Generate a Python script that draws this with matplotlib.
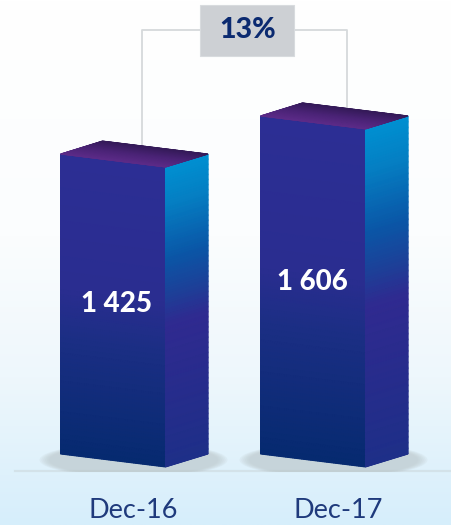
import matplotlib
matplotlib.use("Agg")
import matplotlib.pyplot as plt
import numpy as np
from matplotlib.colors import LinearSegmentedColormap
from matplotlib.patches import Ellipse, Rectangle

plt.rcParams["font.family"] = ["Lato", "DejaVu Sans"]

categories = ["Dec-16", "Dec-17"]
values = [1425, 1606]
value_labels = ["1 425", "1 606"]
growth_label = "13%"

W, H = 452, 525
PX_PER_UNIT = 0.2105   # vertical scale of the bars
PX_PER_BAR = 200       # distance between two bars
BASE_PX = 454          # floor level of the front-left corner
LEFT_PX = 60.5
FRONT_W = 105 / PX_PER_BAR
SIDE_W = 42.5 / PX_PER_BAR
SKEW = 13 / PX_PER_UNIT  # drop of the front edge, in value units

front_cmap = LinearSegmentedColormap.from_list("front", [
    (0, "#2c2e94"), (0.45, "#2a2d90"), (0.62, "#1b2e84"), (1, "#062a70")])
side_cmap = LinearSegmentedColormap.from_list("side", [
    (0, "#0090d2"), (0.12, "#0580c4"), (0.3, "#0a58a8"), (0.42, "#1c4299"),
    (0.53, "#302a90"), (0.75, "#272c8c"), (1, "#1e2f88")])
top_cmap = LinearSegmentedColormap.from_list("top", ["#5c2b88", "#4a2376", "#341a58"])
bg_cmap = LinearSegmentedColormap.from_list("bg", [
    (0, "#ffffff"), (0.45, "#fbfdfe"), (0.72, "#eef7fc"), (1, "#d6eefb")])


def gradient_quad(ax, xs, ys, cmap, horizontal=False):
    """Fill a four-cornered face (tl, tr, br, bl) with a gradient that follows its slant."""
    s = np.linspace(0, 1, 60)
    a, b = (1 - s)[:, None], s[:, None]
    c, d = (1 - s)[None, :], s[None, :]
    XX = xs[0] * a * c + xs[1] * a * d + xs[3] * b * c + xs[2] * b * d
    YY = ys[0] * a * c + ys[1] * a * d + ys[3] * b * c + ys[2] * b * d
    C = d.repeat(60, 0) if horizontal else b.repeat(60, 1)
    ax.pcolormesh(XX, YY, C, cmap=cmap, shading="gouraud", vmin=0, vmax=1, zorder=3)


def y_px(p):
    return (BASE_PX - p) / PX_PER_UNIT


def x_px(p):
    return (p - LEFT_PX) / PX_PER_BAR


fig = plt.figure(figsize=(W / 100, H / 100), dpi=100)
ax = fig.add_axes([0, 0, 1, 1])
ax.axis("off")

# page background, white at the top and pale blue at the bottom
ax.imshow(np.linspace(0, 1, 256)[:, None], cmap=bg_cmap, aspect="auto", zorder=0, origin="upper",
          extent=[x_px(0), x_px(W), y_px(H), y_px(0)], vmin=0, vmax=1)

# floor line
ax.plot([x_px(15), x_px(W)], [y_px(471)] * 2, color="#d3e2e9", lw=1.6, zorder=1)

label_px = [(117, 304), (312, 282)]
name_px = [133.5, 338]

for i, (name, val, lab) in enumerate(zip(categories, values, value_labels)):
    fr = i + FRONT_W
    sd = fr + SIDE_W

    # soft floor shadow, cut off at the floor line
    floor_clip = Rectangle((x_px(0), y_px(471.5)), W / PX_PER_BAR, 40 / PX_PER_UNIT,
                           transform=ax.transData)
    cx, cy = i + 0.365, y_px(460)
    for k in np.linspace(1.0, 0.9, 6):
        e = Ellipse((cx, cy), 188 / PX_PER_BAR * k, 34 / PX_PER_UNIT * k,
                    fc="#bcc7cb", ec="none", alpha=0.16, zorder=2)
        ax.add_patch(e)
        e.set_clip_path(floor_clip)

    # front, side and top of the block
    gradient_quad(ax, [i, fr, fr, i], [val, val - SKEW, -SKEW, 0], front_cmap)
    gradient_quad(ax, [fr, sd, sd, fr], [val - SKEW, val, 0, -SKEW], side_cmap)
    gradient_quad(ax, [i, i + 42 / PX_PER_BAR, sd, fr],
                  [val, val + SKEW, val, val - SKEW], top_cmap, horizontal=True)

    ax.text(x_px(label_px[i][0]), y_px(label_px[i][1]), lab, color="white", fontsize=20,
            fontweight="black", ha="center", va="center", zorder=5)
    ax.text(x_px(name_px[i]), y_px(511), name, color="#1f3a7c", fontsize=19.5,
            ha="center", va="center", zorder=5)

# growth connector between the two bars
ax.plot([x_px(141.5), x_px(141.5), x_px(347), x_px(347)],
        [y_px(149), y_px(30), y_px(30), y_px(112)], color="#d6d9db", lw=1.3, zorder=2)
ax.add_patch(Rectangle((x_px(200.5), y_px(56)), 94 / PX_PER_BAR, 51 / PX_PER_UNIT,
                       fc="#cdd0d4", ec="#d8dbde", lw=0.8, zorder=4))
ax.text(x_px(248), y_px(30), growth_label, color="#0b2a70", fontsize=20.5, fontweight="black",
        ha="center", va="center", zorder=5)

ax.set_xlim(x_px(0), x_px(W))
ax.set_ylim(y_px(H), y_px(0))
fig.savefig("out.png", dpi=100)
